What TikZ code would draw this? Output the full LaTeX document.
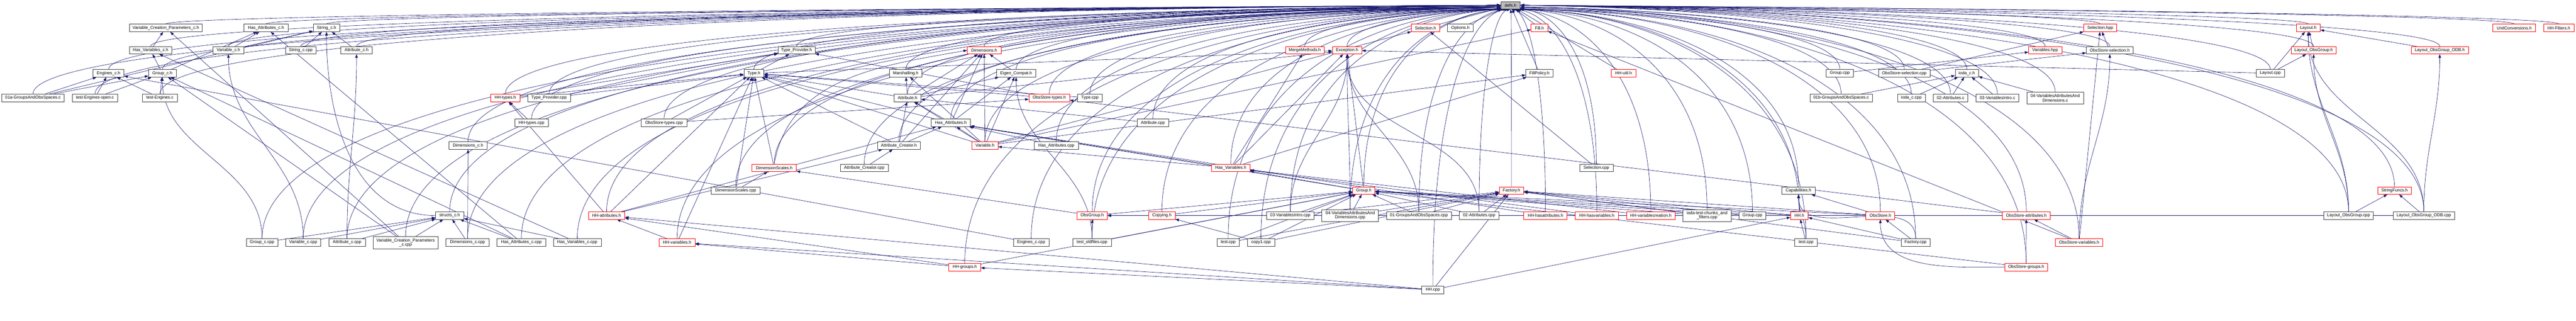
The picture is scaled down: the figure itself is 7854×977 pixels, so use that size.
\documentclass[tikz,border=0pt]{standalone}
\usepackage{fontspec}
\setmainfont{Liberation Sans}
\usetikzlibrary{arrows.meta,calc}
\definecolor{navy}{HTML}{191970}
\newcommand\nf{\fontsize{13}{13}\selectfont}
\pgfdeclarelayer{bg}
\pgfsetlayers{bg,main}
\tikzset{
  nb/.style={draw=black!75, line width=1pt, fill=white, minimum height=23pt, inner sep=0pt, font=\nf, text=black},
  nr/.style={nb, draw=red},
  ng/.style={nb, fill=black!27},
  nbtwo/.style={nb, align=center, minimum height=37pt},
  e/.style={draw=navy, line width=1pt, -{Triangle[length=11pt,width=8pt]}},
}
\newcommand\nodebox[6][nb]{\node[#1, minimum width={#4-#3}] (#2) at ({(#3+#4)/2},#5) {#6};}
\newcommand\edS[2]{\draw[e] (#1) -- (#2);}
\newcommand\edC[2]{\draw[e] (#1.north) to[out=90,in=-90] (#2.south);}
\newcommand\edD[2]{\draw[e] let \p1=(#1.north), \p2=(defs.#2) in (#1.north) .. controls (\x1,{0.3*\y1+0.7*\y2-15pt}) and ({0.5*\x1+0.5*\x2},{\y2-10pt}) .. (defs.#2);}
\begin{document}
\begin{tikzpicture}[x=1pt,y=-1pt]
\useasboundingbox (0,0) rectangle (7854,977);
% row 16
\nodebox[ng]{defs}{4576}{4635}{16}{defs.h}
% row 85
\nodebox{vcpch}{394}{617}{85}{Variable\_Creation\_Parameters\_c.h}
\nodebox{hacch}{744}{878}{85}{Has\_Attributes\_c.h}
\nodebox{strch}{955}{1036}{85}{String\_c.h}
\nodebox[nr]{selh}{4303}{4389}{85}{Selection.h}
\nodebox{opth}{4413}{4492}{85}{Options.h}
\nodebox[nr]{fillh}{4668}{4719}{85}{Fill.h}
\nodebox[nr]{selhpp}{6353}{6454}{85}{Selection.hpp}
\nodebox[nr]{layh}{7001}{7074}{85}{Layout.h}
\nodebox[nr]{unith}{7600}{7731}{85}{UnitConversions.h}
\nodebox[nr]{hhfilt}{7755}{7848}{85}{HH-Filters.h}
% row 153
\nodebox{hvch}{394}{524}{153}{Has\_Variables\_c.h}
\nodebox{varch}{650}{743}{153}{Variable\_c.h}
\nodebox{strccpp}{870}{964}{153}{String\_c.cpp}
\nodebox{attch}{1039}{1135}{153}{Attribute\_c.h}
\nodebox{tph}{2372}{2485}{153}{Type\_Provider.h}
\nodebox[nr]{dimh}{2949}{3052}{153}{Dimensions.h}
\nodebox[nr]{mmh}{3919}{4037}{153}{MergeMethods.h}
\nodebox[nr]{exch}{4062}{4152}{153}{Exception.h}
\nodebox[nr]{varshpp}{6185}{6286}{153}{Variables.hpp}
\nodebox{ossh}{6361}{6504}{153}{ObsStore-selection.h}
\nodebox[nr]{logh}{6985}{7123}{153}{Layout\_ObsGroup.h}
\nodebox[nr]{logodbh}{7351}{7526}{153}{Layout\_ObsGroup\_ODB.h}
% row 223
\nodebox{engch}{284}{378}{223}{Engines\_c.h}
\nodebox{grpch}{453}{537}{223}{Group\_c.h}
\nodebox{typeh}{2268}{2329}{223}{Type.h}
\nodebox{marh}{2712}{2811}{223}{Marshalling.h}
\nodebox{eigh}{3039}{3157}{223}{Eigen\_Compat.h}
\nodebox{fph}{4652}{4735}{223}{FillPolicy.h}
\nodebox[nr]{hhutil}{4913}{4987}{223}{HH-util.h}
\nodebox{grpcppa}{5568}{5651}{223}{Group.cpp}
\nodebox{osselcpp}{5727}{5885}{223}{ObsStore-selection.cpp}
\nodebox{iodach}{5961}{6032}{223}{ioda\_c.h}
\nodebox{laycpp}{6879}{6965}{223}{Layout.cpp}
% row 298
\nodebox{exa}{5}{196}{298}{01a-GroupsAndObsSpaces.c}
\nodebox{teo}{220}{359}{298}{test-Engines-open.c}
\nodebox{te}{434}{541}{298}{test-Engines.c}
\nodebox[nr]{hhtypesh}{1496}{1585}{298}{HH-types.h}
\nodebox{tpcpp}{1609}{1739}{298}{Type\_Provider.cpp}
\nodebox{atth}{2726}{2808}{298}{Attribute.h}
\nodebox[nr]{ostypesh}{3137}{3261}{298}{ObsStore-types.h}
\nodebox{typecpp}{3285}{3361}{298}{Type.cpp}
\nodebox{exb}{5518}{5709}{298}{01b-GroupsAndObsSpaces.c}
\nodebox{iodaccpp}{5785}{5870}{298}{ioda\_c.cpp}
\nodebox{extwoc}{5894}{6000}{298}{02-Attributes.c}
\nodebox{exthreec}{6025}{6155}{298}{03-VariablesIntro.c}
\nodebox[nbtwo]{exfourc}{6180}{6352}{298.5}{04-VariablesAttributesAnd\\Dimensions.c}
% row 374
\nodebox{hhtypescpp}{1569}{1672}{374}{HH-types.cpp}
\nodebox{ostypescpp}{1955}{2094}{374}{ObsStore-types.cpp}
\nodebox{hath}{2839}{2959}{374}{Has\_Attributes.h}
\nodebox{attcpp}{3467}{3563}{374}{Attribute.cpp}
% row 443
\nodebox{dimch}{1369}{1485}{443}{Dimensions\_c.h}
\nodebox{acreh}{2675}{2806}{443}{Attribute\_Creator.h}
\nodebox[nr]{varh}{2963}{3043}{443}{Variable.h}
\nodebox{hatcpp}{3153}{3288}{443}{Has\_Attributes.cpp}
% row 511
\nodebox[nr]{dsh}{2293}{2428}{511}{DimensionScales.h}
\nodebox{acrecpp}{2562}{2708}{511}{Attribute\_Creator.cpp}
\nodebox[nr]{hvh}{3694}{3811}{511}{Has\_Variables.h}
\nodebox{selcpp}{4816}{4918}{511}{Selection.cpp}
% row 580
\nodebox{dscpp}{2168}{2318}{580}{DimensionScales.cpp}
\nodebox[nr]{grph}{4124}{4192}{580}{Group.h}
\nodebox[nr]{facth}{4571}{4646}{580}{Factory.h}
\nodebox{caph}{5433}{5534}{580}{Capabilities.h}
\nodebox[nr]{sfh}{7249}{7352}{580}{StringFuncs.h}
% row 656
\nodebox{structch}{1328}{1414}{656}{structs\_c.h}
\nodebox[nr]{hhatth}{1794}{1905}{656}{HH-attributes.h}
\nodebox[nr]{obsgrph}{3284}{3376}{656}{ObsGroup.h}
\nodebox[nr]{copyh}{3502}{3583}{656}{Copying.h}
\nodebox{exthreecpp}{3862}{4006}{656}{03-VariablesIntro.cpp}
\nodebox[nbtwo]{exfourcpp}{4030}{4203}{656}{04-VariablesAttributesAnd\\Dimensions.cpp}
\nodebox{exonecpp}{4227}{4425}{656}{01-GroupsAndObsSpaces.cpp}
\nodebox{extwocpp}{4449}{4570}{656}{02-Attributes.cpp}
\nodebox[nr]{hhhasatt}{4646}{4778}{656}{HH-hasattributes.h}
\nodebox[nr]{hhhasvar}{4803}{4934}{656}{HH-hasvariables.h}
\nodebox[nr]{hhvarcre}{4959}{5107}{656}{HH-variablecreation.h}
\nodebox[nbtwo]{iodatest}{5131}{5278}{656}{ioda-test-chunks\_and\\\_filters.cpp}
\nodebox{grpcppb}{5302}{5384}{656}{Group.cpp}
\nodebox[nr]{hhh}{5459}{5513}{656}{HH.h}
\nodebox[nr]{osh}{5689}{5777}{656}{ObsStore.h}
\nodebox[nr]{osatth}{6105}{6251}{656}{ObsStore-attributes.h}
\nodebox{logcpp}{7085}{7236}{656}{Layout\_ObsGroup.cpp}
\nodebox{logodbcpp}{7296}{7484}{656}{Layout\_ObsGroup\_ODB.cpp}
% row 738
\nodebox{grpccpp}{751}{847}{738}{Group\_c.cpp}
\nodebox{varccpp}{871}{978}{738}{Variable\_c.cpp}
\nodebox{attccpp}{1002}{1114}{738}{Attribute\_c.cpp}
\nodebox[nbtwo]{vcpccpp}{1137}{1336}{738.5}{Variable\_Creation\_Parameters\\\_c.cpp}
\nodebox{dimccpp}{1360}{1491}{738}{Dimensions\_c.cpp}
\nodebox{hacccpp}{1515}{1664}{738}{Has\_Attributes\_c.cpp}
\nodebox{hvccpp}{1687}{1833}{738}{Has\_Variables\_c.cpp}
\nodebox[nr]{hhvarh}{2010}{2119}{738}{HH-variables.h}
\nodebox{engccpp}{3090}{3198}{738}{Engines\_c.cpp}
\nodebox{testold}{3271}{3388}{738}{test\_oldfiles.cpp}
\nodebox{testa}{3710}{3779}{738}{test.cpp}
\nodebox{copyone}{3803}{3886}{738}{copy1.cpp}
\nodebox{testb}{5472}{5541}{738}{test.cpp}
\nodebox{factcpp}{5796}{5885}{738}{Factory.cpp}
\nodebox[nr]{osvarh}{6267}{6411}{738}{ObsStore-variables.h}
% row 813
\nodebox[nr]{hhgrph}{2893}{2990}{813}{HH-groups.h}
\nodebox[nr]{osgrph}{6112}{6243}{813}{ObsStore-groups.h}
% row 882
\nodebox{hhcpp}{4335}{4402}{882}{HH.cpp}

\begin{pgfonlayer}{bg}
\fill[white] (0,0) rectangle (7854,977);
% ---- edges to defs.h
\edD{vcpch}{west}
\edD{hacch}{west}
\edD{strch}{west}
\edS{selh}{defs}
\edS{opth}{defs}
\edS{fillh}{defs}
\edD{selhpp}{east}
\edD{layh}{east}
\edD{unith}{east}
\edD{hhfilt}{east}
\edD{hvch}{west}
\edD{varch}{west}
\edD{strccpp}{west}
\edD{attch}{west}
\edD{tph}{west}
\edD{dimh}{west}
\edD{mmh}{200}
\edD{exch}{south west}
\edD{varshpp}{east}
\edD{ossh}{east}
\edD{logh}{east}
\edD{logodbh}{east}
\edD{engch}{west}
\edD{grpch}{west}
\edD{typeh}{west}
\edD{marh}{west}
\edD{eigh}{190}
\edS{fph}{defs}
\edS{hhutil}{defs}
\edD{grpcppa}{-20}
\edD{osselcpp}{-10}
\edD{iodach}{east}
\edD{laycpp}{east}
\edD{exa}{west}
\edD{teo}{west}
\edD{te}{west}
\edD{hhtypesh}{185}
\edD{tpcpp}{185}
\edD{atth}{190}
\edD{ostypesh}{195}
\edD{typecpp}{195}
\edD{exb}{-20}
\edD{iodaccpp}{-15}
\edD{extwoc}{-10}
\edD{exthreec}{east}
\edD{exfourc}{east}
\edD{hhtypescpp}{190}
\edD{ostypescpp}{190}
\edD{hath}{195}
\edD{attcpp}{200}
\edD{dimch}{185}
\edD{acreh}{195}
\edD{varh}{200}
\edD{hatcpp}{200}
\edD{dsh}{190}
\edD{acrecpp}{195}
\edD{hvh}{210}
\edD{selcpp}{south east}
\edD{dscpp}{190}
\edD{grph}{230}
\edD{facth}{south}
\edD{caph}{-30}
\edD{sfh}{east}
\edD{structch}{185}
\edD{hhatth}{190}
\edD{obsgrph}{205}
\edD{copyh}{210}
\edD{exthreecpp}{225}
\edD{exfourcpp}{235}
\edD{exonecpp}{245}
\edD{extwocpp}{south}
\edD{hhhasatt}{-80}
\edD{hhhasvar}{-60}
\edD{hhvarcre}{-45}
\edD{iodatest}{-35}
\edD{grpcppb}{-30}
\edD{hhh}{-25}
\edD{osh}{-20}
\edD{osatth}{-10}
\edD{logcpp}{east}
\edD{logodbcpp}{east}
\edD{grpccpp}{190}
\edD{varccpp}{190}
\edD{attccpp}{190}
\edD{vcpccpp}{190}
\edD{dimccpp}{195}
\edD{hacccpp}{195}
\edD{hvccpp}{195}
\edD{hhvarh}{195}
\edD{engccpp}{200}
\edD{testold}{205}
\edD{testa}{215}
\edD{copyone}{220}
\edD{testb}{-25}
\edD{factcpp}{-20}
\edD{osvarh}{-10}
\edD{hhgrph}{200}
\edD{osgrph}{-15}
\edD{hhcpp}{250}
% ---- C API
\edS{hvch}{vcpch}
\edS{varch}{hacch}
\edS{varch}{strch}
\edS{grpch}{hacch}
\edS{grpch}{hvch}
\edS{exa}{engch}
\edS{exa}{grpch}
\edS{exa}{strch}
\edS{teo}{engch}
\edS{teo}{grpch}
\edS{te}{engch}
\edS{te}{grpch}
\edS{engccpp}{engch}
\edC{grpccpp}{grpch}
\edC{varccpp}{varch}
\edS{strccpp}{strch}
\edS{attch}{strch}
\draw[e] (structch.west) to[out=180,in=-90] (strch.south);
\edC{attccpp}{attch}
\edS{vcpccpp}{structch}
\edS{dimccpp}{structch}
\edS{hacccpp}{structch}
\edS{hvccpp}{structch}
\edS{attccpp}{structch}
\edS{varccpp}{structch}
\edS{grpccpp}{structch}
\edS{dimccpp}{dimch}
\edS{hvccpp}{hvch}
\edS{hacccpp}{hacch}
\edS{hacccpp}{grpch}
\edS{vcpccpp}{vcpch}
\edS{vcpccpp}{grpch}
% ---- types, attributes, dimensions
\edS{hhtypescpp}{hhtypesh}
\edS{hhtypesh}{typeh}
\edS{hhtypesh}{tph}
\edS{typeh}{tph}
\edS{tpcpp}{tph}
\edS{tpcpp}{typeh}
\edS{ostypescpp}{typeh}
\edS{ostypescpp}{ostypesh}
\edS{dscpp}{typeh}
\edS{dscpp}{dsh}
\edS{dsh}{typeh}
\draw[e] (dsh.north) to[out=80,in=190] (dimh.west);
\edS{hhvarh}{typeh}
\edS{hhvarh}{hhatth}
\edS{hhatth}{typeh}
\edS{hhatth}{hhtypesh}
\edS{hhatth}{hath}
\edS{hhatth}{acreh}
\edS{acrecpp}{acreh}
\edS{atth}{marh}
\edS{atth}{eigh}
\edS{atth}{typeh}
\edS{atth}{dimh}
\edS{atth}{exch}
\edS{hath}{atth}
\edS{hath}{dimh}
\edS{hath}{eigh}
\edS{hath}{typeh}
\edS{acreh}{atth}
\edS{acreh}{hath}
\edS{acreh}{dimh}
\edS{acreh}{typeh}
\edS{varh}{hath}
\edS{varh}{marh}
\edS{varh}{eigh}
\edS{varh}{dimh}
\edS{varh}{atth}
\edS{varh}{typeh}
\edS{varh}{selh}
\edS{varh}{fillh}
\edS{varh}{fph}
\edS{eigh}{dimh}
\edC{testold}{eigh}
\edS{testold}{obsgrph}
\edS{testold}{grph}
\edS{attcpp}{atth}
\edS{hatcpp}{hath}
\edS{typecpp}{typeh}
\edS{typeh}{exch}
\edS{ostypesh}{typeh}
\edS{ostypesh}{tph}
% ---- exceptions, groups, factories
\edS{hvh}{exch}
\edS{hvh}{mmh}
\edS{hvh}{varh}
\edS{hvh}{hath}
\edS{hvh}{fph}
\edS{grph}{hvh}
\edS{grph}{exch}
\edS{grph}{hath}
\edS{exthreecpp}{grph}
\edS{exfourcpp}{grph}
\edS{exonecpp}{grph}
\edS{extwocpp}{grph}
\edC{exonecpp}{exch}
\edC{exthreecpp}{exch}
\edC{exfourcpp}{exch}
\edC{extwocpp}{exch}
\edS{selcpp}{selh}
\edS{osvarh}{fillh}
\edS{obsgrph}{grph}
\edS{obsgrph}{dsh}
\edS{copyh}{grph}
\edS{copyone}{copyh}
\edS{copyone}{grph}
\edS{copyone}{facth}
\edS{testa}{grph}
\edS{testa}{facth}
\edS{exonecpp}{facth}
\edS{extwocpp}{facth}
\edS{exthreecpp}{facth}
\edS{exfourcpp}{facth}
\edS{iodatest}{grph}
\edS{iodatest}{facth}
\edS{grpcppb}{grph}
\edS{grpcppb}{facth}
\edS{hhhasatt}{hath}
\edS{hhhasvar}{hvh}
\edS{hhvarcre}{hvh}
\edS{hhh}{caph}
\edS{hhh}{grph}
\edS{hhh}{facth}
\edS{osh}{caph}
\edS{osh}{grph}
\edS{osh}{facth}
\edS{testb}{hhh}
\edC{testb}{caph}
\edS{factcpp}{osh}
\edS{factcpp}{hhh}
\edC{factcpp}{caph}
\edS{factcpp}{facth}
\draw[e] (osgrph.west) to[out=180,in=-90] (osh.south);
\edS{osgrph}{osatth}
\edS{osgrph}{grph}
\edS{osvarh}{osatth}
\edC{osvarh}{ossh}
\edS{osvarh}{selhpp}
\edS{osatth}{ostypesh}
\edS{ossh}{selhpp}
\edS{osselcpp}{ossh}
\edS{osselcpp}{selhpp}
\edS{iodaccpp}{iodach}
\edS{extwoc}{iodach}
\edS{exthreec}{iodach}
\edS{exfourc}{iodach}
\edS{exb}{iodach}
\edS{grpcppa}{varshpp}
% ---- layouts
\edS{laycpp}{layh}
\edS{laycpp}{logh}
\edS{laycpp}{exch}
\edS{logh}{layh}
\edS{logodbh}{layh}
\edC{logcpp}{logh}
\edC{logcpp}{layh}
\edS{logcpp}{sfh}
\edS{logcpp}{obsgrph}
\edC{logodbcpp}{logodbh}
\edC{logodbcpp}{layh}
\edS{logodbcpp}{sfh}
\edS{logodbcpp}{obsgrph}
% ---- HH
\edS{hhgrph}{hhvarh}
\edS{hhgrph}{hhatth}
\edS{hhgrph}{grph}
\edS{hhcpp}{hhgrph}
\edS{hhcpp}{hhh}
\edS{hhcpp}{facth}
\edS{hhcpp}{hhatth}
\edS{hhcpp}{hhvarh}
\end{pgfonlayer}
\end{tikzpicture}
\end{document}
